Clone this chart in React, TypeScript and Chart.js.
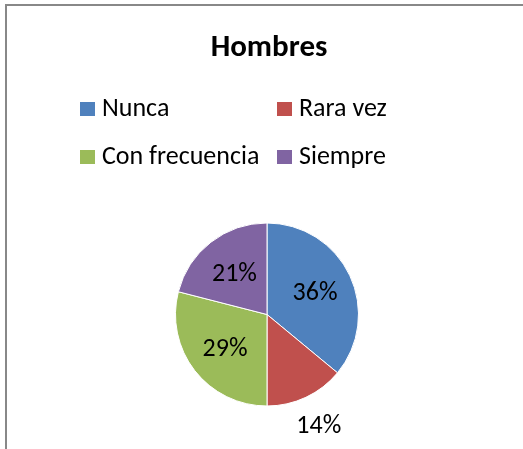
import React, { useEffect, useRef } from "react";
import { Chart, registerables } from "chart.js";

Chart.register(...registerables);

const title = "Hombres";
const categories = ["Nunca", "Rara vez", "Con frecuencia", "Siempre"];
const values = [36, 14, 29, 21];
const colors = ["#4F81BD", "#C0504D", "#9BBB59", "#8064A2"];

const FONT = "Calibri, Carlito, Lato, sans-serif";

export default function App() {
  const ref = useRef<HTMLCanvasElement>(null);

  useEffect(() => {
    document.body.style.margin = "0";
    const overlay = {
      id: "overlay",
      afterDraw(chart: any) {
        const ctx = chart.ctx;
        ctx.save();
        // title
        ctx.fillStyle = "#000";
        ctx.font = `bold 31px ${FONT}`;
        ctx.textAlign = "center";
        ctx.textBaseline = "alphabetic";
        ctx.fillText(title, 269, 56);
        // legend (2 x 2 grid)
        ctx.font = `26px ${FONT}`;
        ctx.textAlign = "left";
        categories.forEach((c, i) => {
          const col = i % 2;
          const row = Math.floor(i / 2);
          const x = 80 + col * 197;
          const y = 102 + row * 48;
          ctx.fillStyle = colors[i];
          ctx.fillRect(x, y, 15, 14);
          ctx.fillStyle = "#000";
          ctx.fillText(c, x + 22, y + 14);
        });
        // data labels
        const meta = chart.getDatasetMeta(0);
        const total = values.reduce((a, b) => a + b, 0);
        ctx.textAlign = "center";
        ctx.textBaseline = "middle";
        meta.data.forEach((arc: any, i: number) => {
          const p = arc.getProps(["x", "y", "startAngle", "endAngle", "outerRadius"], true);
          const mid = (p.startAngle + p.endAngle) / 2;
          const pct = (values[i] / total) * 100;
          const f = pct < 20 ? 1.33 : 0.58;
          ctx.fillText(
            Math.round(pct) + "%",
            p.x + Math.cos(mid) * p.outerRadius * f,
            p.y + Math.sin(mid) * p.outerRadius * f + 2
          );
        });
        ctx.restore();
      },
    };

    const chart = new Chart(ref.current!, {
      type: "pie",
      data: {
        labels: categories,
        datasets: [
          {
            data: values,
            backgroundColor: colors,
            borderColor: "#ffffff",
            borderWidth: 1,
          },
        ],
      },
      options: {
        responsive: false,
        animation: false,
        layout: { padding: { left: 175, right: 164, top: 222, bottom: 42 } },
        plugins: {
          legend: { display: false },
          title: { display: false },
          tooltip: { enabled: false },
        },
      },
      plugins: [overlay],
    });
    return () => chart.destroy();
  }, []);

  return (
    <div style={{ position: "relative", width: 523, height: 449, overflow: "hidden", background: "#fff" }}>
      <div
        style={{
          position: "absolute",
          left: 5,
          top: 4,
          width: 700,
          height: 700,
          borderLeft: "2px solid #888",
          borderTop: "2px solid #888",
        }}
      />
      <canvas ref={ref} width={523} height={449} style={{ position: "absolute", left: 0, top: 0 }} />
    </div>
  );
}
